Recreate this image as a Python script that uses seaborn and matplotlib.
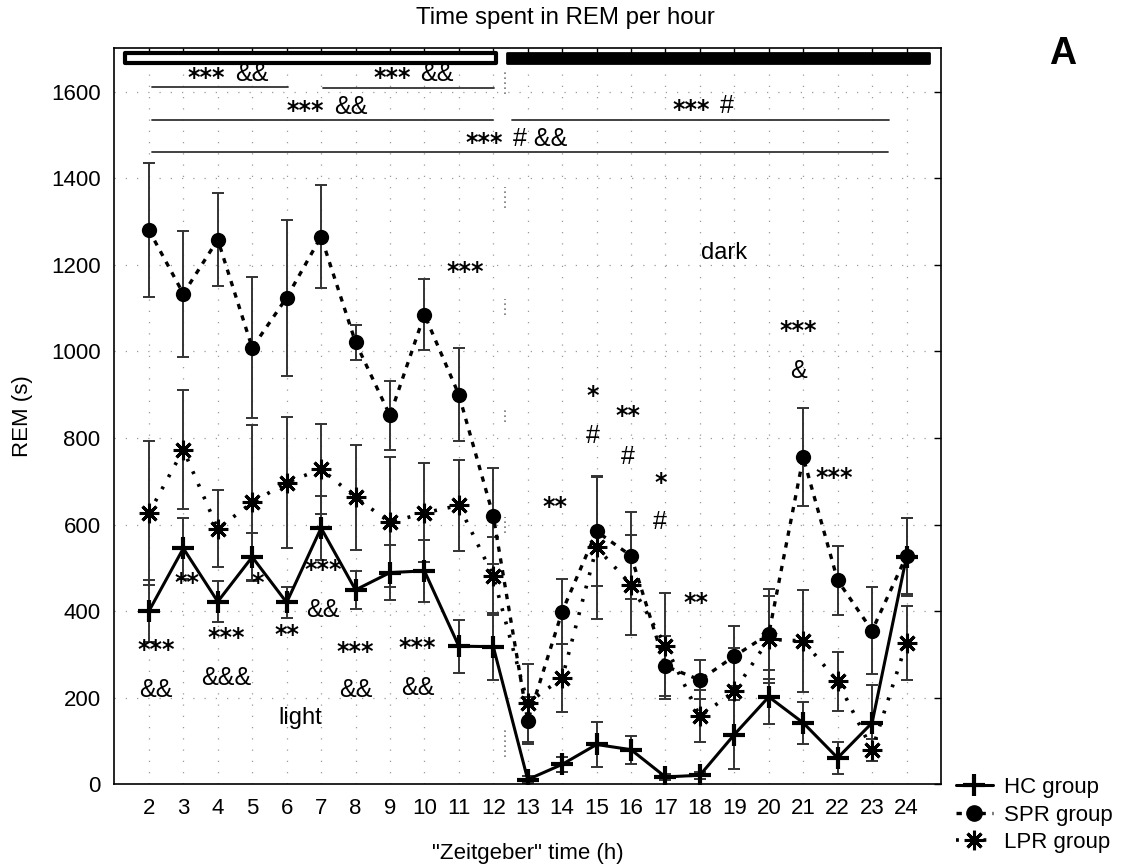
import numpy as np
import pandas as pd
import matplotlib
matplotlib.use("Agg")
import matplotlib.pyplot as plt
from matplotlib.lines import Line2D
from matplotlib.patches import Rectangle
import seaborn as sns

# ---------------- data ----------------
hours = list(range(2, 25))
xticks = list(range(2, 25))
yticks = [0, 200, 400, 600, 800, 1000, 1200, 1400, 1600]

hc = [400, 545, 422, 525, 420, 592, 449, 489, 493, 319, 318, 11, 46, 92, 80, 17, 21, 115, 202, 142, 61, 142, 526]
hc_err = [72, 70, 48, 55, 36, 74, 43, 63, 71, 61, 77, 8, 18, 53, 32, 8, 8, 80, 62, 48, 36, 88, 90]

spr = [1280, 1133, 1258, 1008, 1124, 1265, 1021, 852, 1085, 900, 620, 147, 399, 584, 528, 273, 241, 296, 347, 755, 471, 355, 528]
spr_err = [155, 146, 108, 163, 180, 119, 40, 80, 82, 108, 110, 55, 75, 125, 100, 70, 45, 70, 103, 113, 80, 100, 88]

lpr = [626, 773, 590, 651, 697, 728, 663, 605, 627, 644, 481, 188, 245, 547, 461, 320, 157, 215, 335, 331, 238, 80, 327]
lpr_err = [166, 137, 89, 180, 152, 104, 121, 150, 114, 104, 90, 90, 78, 165, 115, 123, 60, 100, 100, 117, 68, 25, 86]

group_names = ["HC group", "SPR group", "LPR group"]

# significance annotations (x, y, text)
annotations = [
    (2.2, 310, "***"), (2.2, 218, "&&"),
    (3.1, 465, "**"),
    (4.25, 338, "***"), (4.25, 245, "&&&"),
    (5.15, 465, "*"),
    (6.0, 345, "**"),
    (7.05, 495, "***"), (7.05, 403, "&&"),
    (8.0, 305, "***"), (8.0, 218, "&&"),
    (9.8, 315, "***"), (9.8, 222, "&&"),
    (11.2, 1183, "***"),
    (13.8, 641, "**"),
    (14.9, 898, "*"), (14.9, 805, "#"),
    (15.9, 850, "**"), (15.9, 757, "#"),
    (16.85, 697, "*"), (16.85, 606, "#"),
    (17.9, 419, "**"),
    (20.85, 1046, "***"), (20.85, 954, "&"),
    (21.9, 708, "***"),
]

# brackets (x_start, x_end, y_line, x_gap, y_stars, y_rest, stars, rest)
brackets = [
    (2.08, 6.03, 1610, 4.38, 1631, 1641, "***", "&&"),
    (7.07, 12.01, 1608, 9.76, 1631, 1641, "***", "&&"),
    (2.08, 11.98, 1535, 7.25, 1555, 1564, "***", "&&"),
    (12.55, 23.48, 1535, 18.46, 1558, 1566, "***", "#"),
    (2.08, 23.45, 1460, 12.44, 1482, 1491, "***", "# &&"),
]

# ---------------- style ----------------
sns.set_style("white")
plt.rcParams["font.family"] = ["Liberation Sans", "DejaVu Sans"]
plt.rcParams["text.color"] = "black"
plt.rcParams["axes.labelcolor"] = "black"

fig = plt.figure(figsize=(11.21, 8.68), dpi=100)
ax = fig.add_axes([0.1021, 0.0964, 0.7373, 0.848])

df = pd.DataFrame({
    "hour": hours * 3,
    "rem": hc + spr + lpr,
    "group": [group_names[0]] * len(hours) + [group_names[1]] * len(hours) + [group_names[2]] * len(hours),
})

errs = [hc_err, spr_err, lpr_err]
vals = [hc, spr, lpr]
for v, e in zip(vals, errs):
    ax.errorbar(hours, v, yerr=e, fmt="none", ecolor="#333333", elinewidth=1.4,
                capsize=4, capthick=1.4, zorder=2)

styles = {
    "HC group": dict(marker="+", markersize=16, mew=3, ls="-", lw=2.2),
    "SPR group": dict(marker="o", markersize=11, mew=0, ls=(0, (1.6, 2.0)), lw=2.4),
    "LPR group": dict(marker=(8, 2, 0), markersize=14, mew=2.2, ls=(0, (0.8, 3.0)), lw=2.6),
}
for g in group_names:
    sub = df[df["group"] == g]
    s = styles[g]
    sns.lineplot(data=sub, x="hour", y="rem", ax=ax, color="black", errorbar=None,
                 marker=s["marker"], markersize=s["markersize"], markeredgewidth=s["mew"],
                 markeredgecolor="black", markerfacecolor="black",
                 linestyle=s["ls"], linewidth=s["lw"], zorder=3, legend=False)

ax.set_xlim(1, 25)
ax.set_ylim(0, 1700)
ax.set_xticks(xticks)
ax.set_yticks(yticks)
ax.tick_params(direction="in", top=True, right=True, length=5, width=1,
               labelsize=16, colors="black")
ax.tick_params(axis="y", pad=10)
ax.tick_params(axis="x", pad=10)
ax.set_xticklabels([str(t) for t in xticks])
ax.set_yticklabels([str(t) for t in yticks])
for sp in ax.spines.values():
    sp.set_color("black")
    sp.set_linewidth(1.2)
ax.grid(True, ls=(0, (1, 8)), color="#9a9a9a", lw=0.9)
ax.set_axisbelow(True)

ax.set_xlabel('"Zeitgeber" time (h)', fontsize=16, labelpad=17)
ax.set_ylabel("REM (s)", fontsize=16, labelpad=13)
fig.text(565 / 1121, 1 - 18 / 868, "Time spent in REM per hour", fontsize=17.3,
         ha="center", va="center")

# light / dark bars
ax.add_patch(Rectangle((1.3, 1665), 10.78, 23, facecolor="white", edgecolor="black",
                       lw=3, joinstyle="round", clip_on=False, zorder=4))
ax.add_patch(Rectangle((12.39, 1665), 12.25, 25, facecolor="black", edgecolor="black",
                       lw=2, joinstyle="round", clip_on=False, zorder=4))

# vertical dotted divider fragments
for y0, y1 in [(1595, 1650), (1330, 1380), (1085, 1120), (837, 871), (580, 617), (63, 130)]:
    ax.plot([12.35, 12.35], [y0, y1], color="#777777", lw=1.2, ls=(0, (1, 2)), zorder=1)

star_kw = dict(fontsize=17, fontweight="bold", family=["DejaVu Sans"])
sym_kw = dict(fontsize=18)

# brackets
for x0, x1, yl, xg, ys, yr, st, rest in brackets:
    ax.plot([x0, x1], [yl, yl], color="#333333", lw=1.3, zorder=3)
    ax.annotate(st, (xg, ys), xytext=(-4, 0), textcoords="offset points",
                ha="right", va="center", **star_kw)
    ax.annotate(rest, (xg, yr), xytext=(3, 0), textcoords="offset points",
                ha="left", va="center", **sym_kw)

for x, y, t in annotations:
    if "*" in t:
        ax.text(x, y, t, ha="center", va="center", **star_kw)
    else:
        ax.text(x, y, t, ha="center", va="center", **sym_kw)

ax.text(6.4, 153, "light", ha="center", va="center", fontsize=17)
ax.text(18.7, 1227, "dark", ha="center", va="center", fontsize=17)

fig.text(1063 / 1121, 1 - 54 / 868, "A", fontsize=27, fontweight="bold", ha="center", va="center")

handles = [
    Line2D([], [], color="black", marker="+", markersize=16, mew=3, ls="-", lw=2.2),
    Line2D([], [], color="black", marker="o", markersize=11, ls=(0, (1.6, 2.0)), lw=2.4),
    Line2D([], [], color="black", marker=(8, 2, 0), markersize=14, mew=2.2, ls=(0, (0.8, 3.0)), lw=2.6),
]
fig.legend(handles, group_names, loc="center left", bbox_to_anchor=(940 / 1121, 1 - 815 / 868),
           frameon=False, fontsize=16, handlelength=1.7, handletextpad=0.5, labelspacing=0.3,
           borderpad=0.2)

fig.savefig("out.png", dpi=100)
